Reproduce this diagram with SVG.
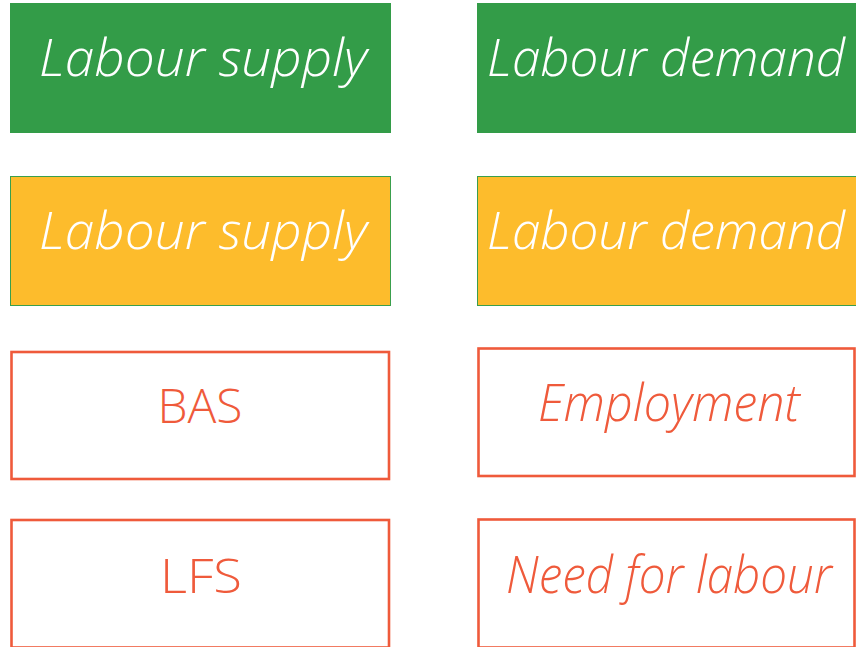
<svg xmlns="http://www.w3.org/2000/svg" width="856" height="647" viewBox="0 0 856 647">
<style>
.t{font-family:"Open Sans","Noto Sans","DejaVu Sans",sans-serif;font-weight:300;text-anchor:middle}
.w{fill:#ffffff;font-style:italic;font-size:52px}
.r{fill:#ef5a3b}
.ri{font-style:italic;font-size:51px}
.rn{font-size:48px}
.g{fill:#339c48}
.y{fill:#fdbc2c;stroke:#3a9f4d;stroke-width:1}
.o{fill:#ffffff;stroke:#ef5a3b;stroke-width:2.6}
</style>
<rect width="856" height="647" fill="#ffffff"/>
<g id="supply-green"><rect class="g" x="10" y="3" width="381" height="130"/><text class="t w" x="203" y="76" textLength="328" lengthAdjust="spacingAndGlyphs">Labour supply</text></g>
<g id="demand-green"><rect class="g" x="477" y="3" width="379" height="130"/><text class="t w" x="666" y="76" textLength="358" lengthAdjust="spacingAndGlyphs">Labour demand</text></g>
<g id="supply-yellow"><rect class="y" x="10.5" y="176.5" width="380" height="129"/><text class="t w" x="203" y="249" textLength="328" lengthAdjust="spacingAndGlyphs">Labour supply</text></g>
<g id="demand-yellow"><rect class="y" x="477.5" y="176.5" width="379" height="129"/><text class="t w" x="666" y="249" textLength="358" lengthAdjust="spacingAndGlyphs">Labour demand</text></g>
<g id="bas"><rect class="o" x="11.5" y="352" width="377.5" height="127"/><text class="t r rn" x="200" y="423" textLength="85" lengthAdjust="spacingAndGlyphs">BAS</text></g>
<g id="employment"><rect class="o" x="478.5" y="348.5" width="376" height="127.5"/><text class="t r ri" x="669" y="421" textLength="262" lengthAdjust="spacingAndGlyphs">Employment</text></g>
<g id="lfs"><rect class="o" x="11.5" y="520" width="377.5" height="127.5"/><text class="t r rn" x="201" y="593" textLength="82" lengthAdjust="spacingAndGlyphs">LFS</text></g>
<g id="need"><rect class="o" x="478.5" y="519.5" width="376" height="128"/><text class="t r ri" x="669" y="593" textLength="326" lengthAdjust="spacingAndGlyphs">Need for labour</text></g>
<g id="connectors"></g>
</svg>
